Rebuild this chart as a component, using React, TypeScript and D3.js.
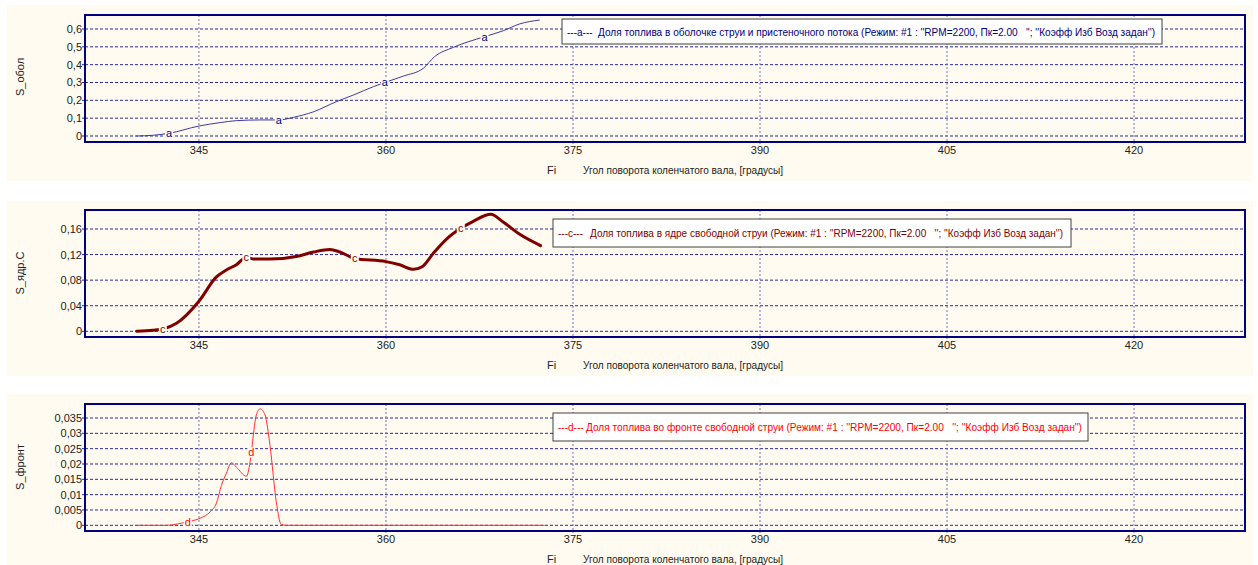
import React from "react";
import * as d3 from "d3";

// ---------- data ----------
const xTicks = [345, 360, 375, 390, 405, 420];

const fiA = [340.0, 341.3, 342.6, 345.0, 346.7, 348.0, 349.9, 351.4, 352.6, 354.2, 356.0, 357.4, 359.0, 359.9, 361.4, 363.0, 363.9, 365.4, 367.9, 369.4, 370.7, 372.3];
const sA = [0, 0.004, 0.015, 0.056, 0.075, 0.086, 0.09, 0.09, 0.105, 0.136, 0.192, 0.23, 0.277, 0.3, 0.336, 0.38, 0.445, 0.497, 0.557, 0.59, 0.628, 0.65];
const markA = [342.6, 351.4, 359.9, 367.9];
const yTicksA = [0, 0.1, 0.2, 0.3, 0.4, 0.5, 0.6];

const fiC = [340.0, 341.3, 342.1, 343.2, 345.0, 346.4, 347.2, 348.0, 348.8, 349.4, 350.7, 352.8, 354.2, 355.5, 356.3, 357.5, 360.0, 361.1, 362.2, 362.9, 363.8, 364.9, 366.0, 367.0, 368.4, 369.4, 370.7, 372.4];
const sC = [0, 0.0016, 0.0036, 0.0125, 0.047, 0.085, 0.096, 0.104, 0.116, 0.113, 0.113, 0.117, 0.124, 0.128, 0.124, 0.114, 0.109, 0.104, 0.097, 0.101, 0.122, 0.145, 0.161, 0.172, 0.183, 0.171, 0.152, 0.134];
const markC = [342.1, 348.8, 357.5, 366.0];
const yTicksC = [0, 0.04, 0.08, 0.12, 0.16];

const fiD = [340.1, 342.4, 344.1, 345.1, 345.9, 346.4, 346.8, 347.2, 347.6, 348.0, 348.8, 349.1, 349.2, 349.6, 349.9, 350.3, 350.7, 351.2, 351.6, 352.0, 372.7];
const sD = [0, 0, 0.0012, 0.0023, 0.0044, 0.0072, 0.013, 0.017, 0.0204, 0.019, 0.016, 0.0207, 0.0238, 0.036, 0.038, 0.036, 0.026, 0.0077, 0.0003, 0, 0];
const markD = [344.1, 349.2];
const yTicksD = [0, 0.005, 0.01, 0.015, 0.02, 0.025, 0.03, 0.035];

const legendA = "Доля топлива в оболочке струи и пристеночного потока (Режим: #1 : ''RPM=2200, Пк=2.00   ''; ''Коэфф Изб Возд задан'')";
const legendC = "Доля топлива в ядре свободной струи (Режим: #1 : ''RPM=2200, Пк=2.00   ''; ''Коэфф Изб Возд задан'')";
const legendD = "Доля топлива во фронте свободной струи (Режим: #1 : ''RPM=2200, Пк=2.00   ''; ''Коэфф Изб Возд задан'')";
const xTitle = "Угол поворота коленчатого вала, [градусы]";

// ---------- layout ----------
const W = 1258;
const H = 565;
const FONT = "'Liberation Sans', Arial, sans-serif";
const CREAM = "#FFFBF0";
const NAVY = "#000080";

const xScale = d3.scaleLinear().domain([335.86, 428.9]).range([85, 1245]);

type PanelCfg = {
  bgTop: number; bgBottom: number;
  top: number; bottom: number;
  yDomain: [number, number];
  xs: number[]; ys: number[]; marks: number[]; letter: string;
  ticks: number[]; yTitle: string;
  color: string; lineColor: string; width: number;
  legend: string; lg: { x: number; y: number; w: number; h: number; tx: number; tl: number };
  tickLabelY: number; titleY: number; yTitleY: number;
};

const panels: PanelCfg[] = [
  {
    bgTop: 5, bgBottom: 181, top: 15, bottom: 142, yDomain: [-0.0337, 0.6785],
    xs: fiA, ys: sA, marks: markA, letter: "a", ticks: yTicksA, yTitle: "S_обол",
    color: "#000080", lineColor: "#3a3aa8", width: 1,
    legend: legendA, lg: { x: 562, y: 19, w: 600, h: 25, tx: 598, tl: 557 },
    tickLabelY: 154, titleY: 174, yTitleY: 77,
  },
  {
    bgTop: 201, bgBottom: 376, top: 210, bottom: 337, yDomain: [-0.0089, 0.1897],
    xs: fiC, ys: sC, marks: markC, letter: "c", ticks: yTicksC, yTitle: "S_ядр.С",
    color: "#800000", lineColor: "#800000", width: 3,
    legend: legendC, lg: { x: 553, y: 219, w: 518, h: 28, tx: 590, tl: 473 },
    tickLabelY: 349, titleY: 369, yTitleY: 273,
  },
  {
    bgTop: 394, bgBottom: 565, top: 404, bottom: 531, yDomain: [-0.00186, 0.03957],
    xs: fiD, ys: sD, marks: markD, letter: "d", ticks: yTicksD, yTitle: "S_фронт",
    color: "#ff0000", lineColor: "#ff3030", width: 1,
    legend: legendD, lg: { x: 553, y: 413, w: 535, h: 28, tx: 586, tl: 496 },
    tickLabelY: 543, titleY: 563, yTitleY: 467,
  },
];

const fmt = (v: number) => String(v).replace(".", ",");

function interp(xs: number[], ys: number[], x: number) {
  const i = Math.max(1, Math.min(xs.length - 1, d3.bisectLeft(xs, x)));
  const x0 = xs[i - 1], x1 = xs[i];
  const t = x1 === x0 ? 0 : (x - x0) / (x1 - x0);
  return ys[i - 1] + t * (ys[i] - ys[i - 1]);
}

function Panel({ p }: { p: PanelCfg }) {
  const y = d3.scaleLinear().domain(p.yDomain).range([p.bottom, p.top]);
  const [x0, x1] = xScale.range();
  const line = d3
    .line<number>()
    .x((_, i) => xScale(p.xs[i]))
    .y((d) => y(d))
    .curve(d3.curveMonotoneX);
  return (
    <g>
      <rect x={7} y={p.bgTop} width={1246} height={p.bgBottom - p.bgTop} fill={CREAM} />
      {/* grid */}
      {p.ticks.map((t) => (
        <line key={"h" + t} x1={x0} x2={x1} y1={y(t)} y2={y(t)} stroke="#2a2a9a" strokeWidth={1} strokeDasharray="3,2" />
      ))}
      {xTicks.map((t) => (
        <line key={"v" + t} x1={xScale(t)} x2={xScale(t)} y1={p.top} y2={p.bottom + 2} stroke="#7474c4" strokeWidth={1} strokeDasharray="2,2" />
      ))}
      {/* y ticks */}
      {p.ticks.map((t) => (
        <g key={"yt" + t}>
          <line x1={x0 - 3} x2={x0} y1={y(t)} y2={y(t)} stroke="#2a2a9a" />
          <text x={82} y={y(t) + 4} textAnchor="end" fontSize={11} fontFamily={FONT} fill="#222">{fmt(t)}</text>
        </g>
      ))}
      {xTicks.map((t) => (
        <text key={"xt" + t} x={xScale(t)} y={p.tickLabelY} textAnchor="middle" fontSize={11} fontFamily={FONT} fill="#222">{t}</text>
      ))}
      {/* series */}
      <path d={line(p.ys) || ""} fill="none" stroke={p.lineColor} strokeWidth={p.width} strokeLinejoin="round" strokeLinecap="round" />
      {p.marks.map((m) => {
        const cx = xScale(m);
        const cy = y(interp(p.xs, p.ys, m));
        return (
          <g key={"m" + m}>
            <rect x={cx - 4} y={cy - 5} width={8} height={10} fill={CREAM} />
            <text x={cx} y={cy + 4} textAnchor="middle" fontSize={11} fontFamily={FONT} fill={p.color}>{p.letter}</text>
          </g>
        );
      })}
      {/* frame */}
      <rect x={x0} y={p.top} width={x1 - x0} height={p.bottom - p.top} fill="none" stroke={NAVY} strokeWidth={2} />
      {/* legend */}
      <rect x={p.lg.x} y={p.lg.y} width={p.lg.w} height={p.lg.h} fill="#ffffff" stroke="#404040" strokeWidth={1} />
      <text x={p.lg.x + 5} y={p.lg.y + p.lg.h / 2 + 4} fontSize={10} fontFamily={FONT} fill={p.color}>{"---" + p.letter + "---"}</text>
      <text x={p.lg.tx} y={p.lg.y + p.lg.h / 2 + 4} fontSize={11} fontFamily={FONT} fill={p.color} textLength={p.lg.tl} lengthAdjust="spacingAndGlyphs" style={{ whiteSpace: "pre" }}>{p.legend}</text>
      {/* titles */}
      <text x={547} y={p.titleY} fontSize={11} fontFamily={FONT} fill="#222">Fi</text>
      <text x={583} y={p.titleY} fontSize={11} fontFamily={FONT} fill="#222" textLength={200} lengthAdjust="spacingAndGlyphs">{xTitle}</text>
      <text transform={`translate(24,${p.yTitleY}) rotate(-90)`} textAnchor="middle" fontSize={11} fontFamily={FONT} fill="#222">{p.yTitle}</text>
    </g>
  );
}

export default function App() {
  return (
    <svg width={W} height={H} style={{ position: "absolute", left: 0, top: 0, display: "block", background: "#ffffff" }}>
      {panels.map((p, i) => (
        <Panel key={i} p={p} />
      ))}
    </svg>
  );
}
